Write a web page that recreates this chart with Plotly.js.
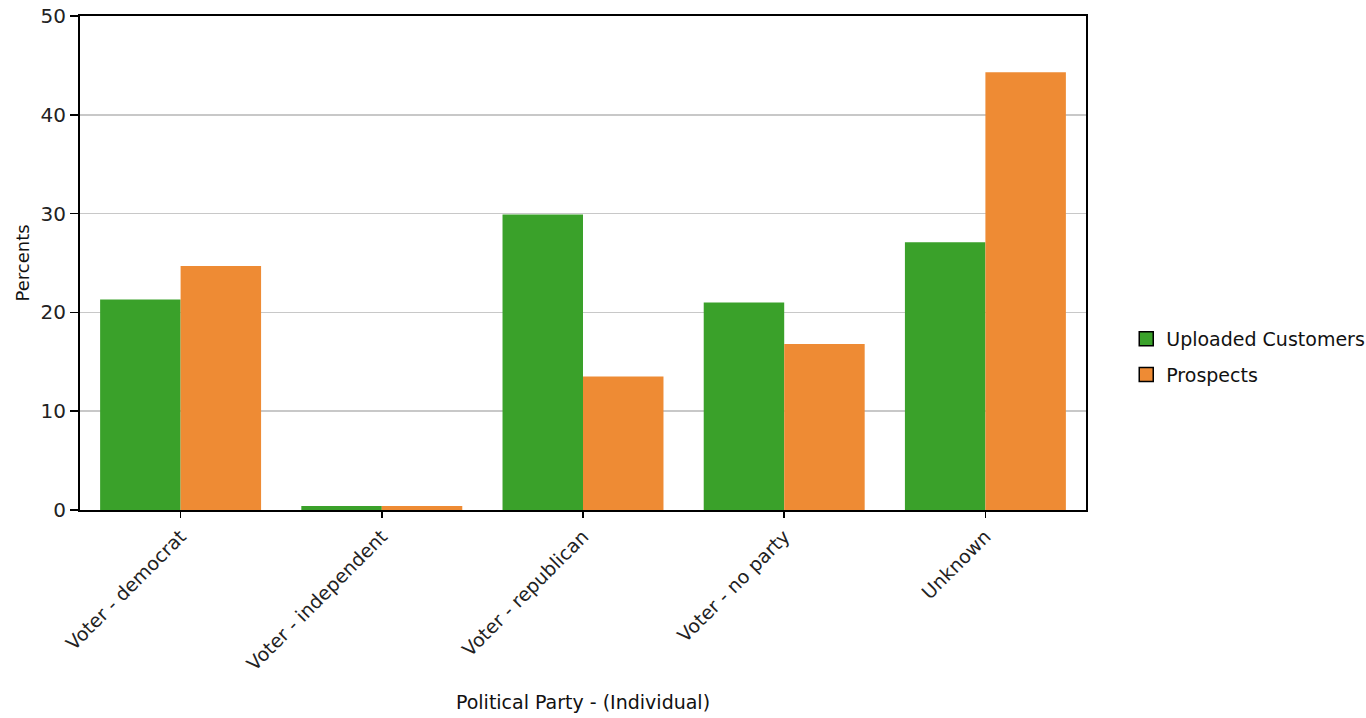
<!DOCTYPE html>
<html>
<head>
<meta charset="utf-8">
<script src="https://cdn.plot.ly/plotly-3.0.1.min.js"></script>
<style>html,body{margin:0;padding:0;background:#fff;}#chart{width:1366px;height:718px;}</style>
</head>
<body>
<div id="chart"></div>
<script>
const categories = ["Voter - democrat", "Voter - independent", "Voter - republican", "Voter - no party", "Unknown"];
const seriesNames = ["Uploaded Customers", "Prospects"];
const uploadedCustomers = [21.3, 0.4, 29.9, 21.0, 27.1];
const prospects = [24.7, 0.4, 13.5, 16.8, 44.3];
const yTicks = [0, 10, 20, 30, 40, 50];

const green = "#3AA12A";
const orange = "#EE8B34";
const FONT = "DejaVu Sans, Verdana, sans-serif";

const traces = [
  {type: "bar", x: categories, y: uploadedCustomers, name: seriesNames[0], marker: {color: green, line: {width: 0}}, showlegend: false},
  {type: "bar", x: categories, y: prospects, name: seriesNames[1], marker: {color: orange, line: {width: 0}}, showlegend: false},
  {type: "scatter", mode: "markers", x: [null], y: [null], name: seriesNames[0], legendgroup: "a", marker: {symbol: "square", size: 14, color: green, line: {color: "#000", width: 1.5}}, showlegend: true},
  {type: "scatter", mode: "markers", x: [null], y: [null], name: seriesNames[1], legendgroup: "b", marker: {symbol: "square", size: 14, color: orange, line: {color: "#000", width: 1.5}}, showlegend: true}
];

const layout = {
  width: 1366, height: 718,
  margin: {l: 80, r: 280, t: 16, b: 208, autoexpand: false},
  paper_bgcolor: "#fff", plot_bgcolor: "#fff",
  font: {family: FONT, size: 19, color: "#111"},
  barmode: "group", bargap: 0.2, bargroupgap: 0,
  showlegend: true,
  legend: {x: 1.04, xanchor: "left", y: 0.31, yanchor: "middle", font: {family: FONT, size: 19, color: "#111"}, traceorder: "grouped", tracegroupgap: 8, itemwidth: 30, bgcolor: "rgba(0,0,0,0)"},
  xaxis: {
    type: "category", tickangle: -45, showline: true, linecolor: "#000", linewidth: 2, mirror: true,
    ticks: "outside", ticklen: 6, tickcolor: "#000", tickwidth: 1.5,
    showgrid: false, zeroline: false,
    tickfont: {family: FONT, size: 19, color: "#222"},
    title: {text: "Political Party - (Individual)", font: {family: FONT, size: 19, color: "#111"}, standoff: 22}
  },
  yaxis: {
    range: [0, 50], tickvals: yTicks, ticktext: yTicks.map(String),
    showline: true, linecolor: "#000", linewidth: 2, mirror: true,
    ticks: "outside", ticklen: 8, tickcolor: "#000", tickwidth: 1.5,
    showgrid: true, gridcolor: "#c8c8c8", gridwidth: 1.5, zeroline: false,
    tickfont: {family: FONT, size: 20, color: "#222"},
    title: {text: "Percents", font: {family: FONT, size: 18, color: "#111"}, standoff: 6}
  }
};

Plotly.newPlot("chart", traces, layout, {displayModeBar: false, staticPlot: true});
</script>
</body>
</html>
